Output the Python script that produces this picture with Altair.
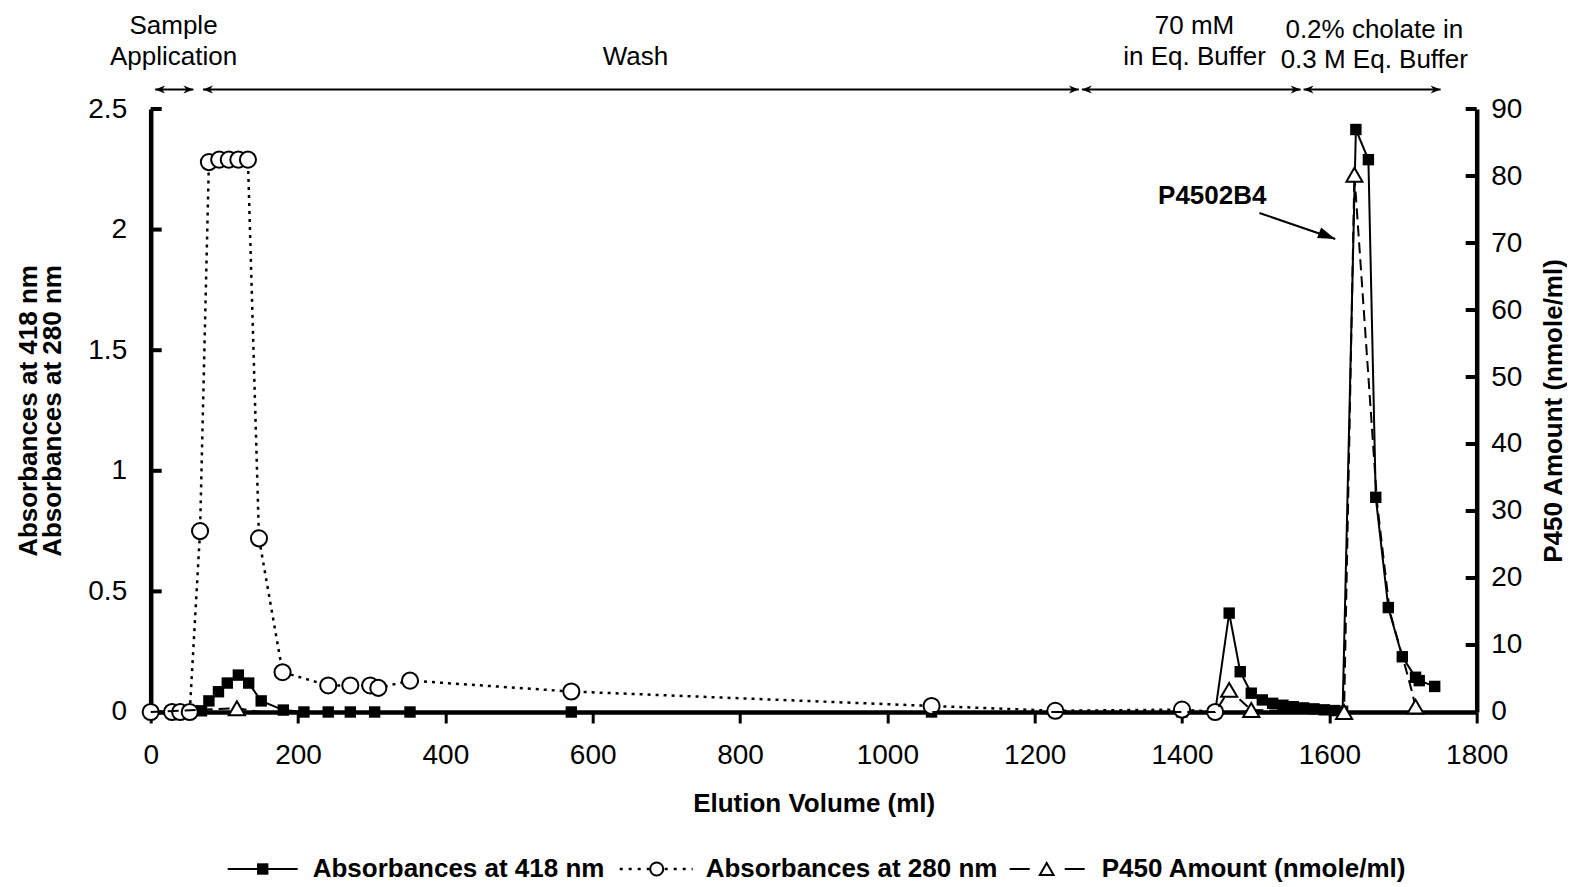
import altair as alt
import pandas as pd

# ---------------- data ----------------
ml_280 = [0, 29, 40, 53, 67, 79, 93, 106, 119, 132, 147, 179, 241, 271, 298, 309, 352, 571, 1060, 1228, 1400, 1445]
abs_280 = [0, 0, 0, 0, 0.75, 2.28, 2.29, 2.29, 2.29, 2.29, 0.72, 0.165, 0.11, 0.11, 0.11, 0.10, 0.13, 0.085, 0.025, 0.005, 0.01, 0.0]

ml_418 = [0, 69, 79, 92, 104, 119, 133, 150, 180, 208, 241, 271, 304, 352, 571, 1060, 1228, 1400, 1445,
          1464, 1479, 1494, 1509, 1523, 1537, 1551, 1565, 1579, 1593, 1607, 1618,
          1636, 1653, 1663, 1680, 1699, 1717, 1722, 1743]
abs_418 = [0, 0.005, 0.046, 0.084, 0.12, 0.153, 0.12, 0.046, 0.008, 0.0, 0.0, 0.0, 0.0, 0.0, 0.0, 0.0, 0.0, 0.0, 0.0,
           0.41, 0.167, 0.078, 0.05, 0.036, 0.028, 0.022, 0.017, 0.013, 0.009, 0.006, 0.003,
           2.415, 2.29, 0.89, 0.433, 0.229, 0.144, 0.13, 0.106]

ml_p450 = [0, 117, 150, 1445, 1464, 1494, 1620, 1634, 1665, 1682, 1700, 1711, 1717]
p450 = [0, 0.55, 0, 0, 3.3, 0.3, 0, 80.2, 31, 15, 8, 3.5, 0.8]
p450_marked = [False, True, False, False, True, True, True, True, False, False, False, False, True]

left_ticks = [0, 0.5, 1, 1.5, 2, 2.5]
right_ticks = [0, 10, 20, 30, 40, 50, 60, 70, 80, 90]
x_ticks = [0, 200, 400, 600, 800, 1000, 1200, 1400, 1600, 1800]

top_labels = ["Sample\nApplication", "70 mM\nin Eq. Buffer"]
top_labels_ml = [31, 1417]
wash_label = ["Wash"]
wash_ml = [658]
chol_label = ["0.2% cholate in\n0.3 M Eq. Buffer"]
chol_ml = [1661]
arrow_start = [6, 71, 1264, 1565]
arrow_end = [58, 1260, 1561, 1751]

peak_label = ["P4502B4"]
peak_label_ml = [1441]
peak_label_val = [2.14]
peak_arrow = {"x1": [1505], "y1": [2.069], "x2": [1608], "y2": [1.961]}

legend_labels = ["Absorbances at 418 nm", "Absorbances at 280 nm", "P450 Amount (nmole/ml)"]

# ---------------- tables ----------------
df280 = pd.DataFrame({"ml": ml_280, "v": abs_280})
df418 = pd.DataFrame({"ml": ml_418, "v": abs_418})
dfp = pd.DataFrame({"ml": ml_p450, "v": p450, "m": p450_marked})
dfp_m = dfp[dfp["m"]]
df_lt = pd.DataFrame({"v": left_ticks[1:]})
df_rt = pd.DataFrame({"v": right_ticks[1:]})
df_top = pd.DataFrame({"ml": top_labels_ml, "t": top_labels})
df_wash = pd.DataFrame({"ml": wash_ml, "t": wash_label})
df_chol = pd.DataFrame({"ml": chol_ml, "t": chol_label})
df_arr = pd.DataFrame({"x1": arrow_start, "x2": arrow_end})
df_peak = pd.DataFrame({"ml": peak_label_ml, "v": peak_label_val, "t": peak_label})
df_parr = pd.DataFrame(peak_arrow)

W, H = 1326, 603
FONT = "Liberation Sans"

xs = alt.Scale(domain=[0, 1800], nice=False, zero=False)
ysl = alt.Scale(domain=[0, 2.5], nice=False, zero=False)
ysr = alt.Scale(domain=[0, 90], nice=False, zero=False)

x_axis = alt.Axis(values=x_ticks, format="d", title="Elution Volume (ml)", tickSize=11, tickWidth=3,
                  tickColor="black", domainWidth=4.5, domainColor="black", labelPadding=19,
                  labelFontSize=28, labelFlush=False, labelOverlap=False, grid=False,
                  titleY=92, titleBaseline="middle", titleFontSize=26, titleFontWeight="bold")
left_axis = alt.Axis(values=left_ticks, labelExpr="datum.value", orient="left", ticks=False,
                     domainWidth=4.5, domainColor="black", labelPadding=24, labelFontSize=28,
                     labelFlush=False, labelOverlap=False, grid=False,
                     title=["Absorbances at 418 nm", "Absorbances at 280 nm"], titleAngle=270,
                     titleX=-122.5, titleY=301.5, titleAlign="center", titleBaseline="middle",
                     titleLineHeight=24, titleFontSize=26, titleFontWeight="bold")
right_axis = alt.Axis(values=right_ticks, format="d", orient="right", ticks=False,
                      domainWidth=4.5, domainColor="black", labelPadding=14, labelFontSize=28,
                      labelFlush=False, labelOverlap=False, grid=False,
                      title="P450 Amount (nmole/ml)", titleAngle=270, titleX=77, titleY=301.5,
                      titleAlign="center", titleBaseline="middle", titleFontSize=26,
                      titleFontWeight="bold")


def XF(f):
    return alt.X(f"{f}:Q", scale=xs, axis=x_axis)


def YL(f):
    return alt.Y(f"{f}:Q", scale=ysl, axis=left_axis)


def YR(f):
    return alt.Y(f"{f}:Q", scale=ysr, axis=right_axis)


# ---- left-scale group ----
tick_l = alt.Chart(df_lt).mark_rule(color="black", strokeWidth=4).encode(
    y=YL("v"), x=alt.value(0), x2=alt.value(11))
line418 = alt.Chart(df418).mark_line(color="black", strokeWidth=2).encode(x=XF("ml"), y=YL("v"))
line280 = alt.Chart(df280).mark_line(color="black", strokeWidth=2.5, strokeDash=[3, 5]).encode(
    x=XF("ml"), y=YL("v"))
sq418 = alt.Chart(df418).mark_point(shape="square", filled=True, color="black", size=130, opacity=1).encode(
    x=XF("ml"), y=YL("v"))
circ280 = alt.Chart(df280).mark_point(shape="circle", filled=True, fill="white", stroke="black",
                                      strokeWidth=2, size=260, opacity=1).encode(x=XF("ml"), y=YL("v"))

top_txt = alt.Chart(df_top).mark_text(font=FONT, fontSize=26, lineBreak="\n", lineHeight=31,
                                      align="center", baseline="middle", color="black").encode(
    x=XF("ml"), y=alt.value(-83), text="t:N")
wash_txt = alt.Chart(df_wash).mark_text(font=FONT, fontSize=26, align="center", baseline="middle",
                                        color="black").encode(x=XF("ml"), y=alt.value(-52), text="t:N")
chol_txt = alt.Chart(df_chol).mark_text(font=FONT, fontSize=26, lineBreak="\n", lineHeight=30,
                                        align="center", baseline="middle", color="black").encode(
    x=XF("ml"), y=alt.value(-79), text="t:N")
ARR_Y = -19.6
arr_rule = alt.Chart(df_arr).mark_rule(color="black", strokeWidth=2).encode(
    x=XF("x1"), x2="x2:Q", y=alt.value(ARR_Y))
head_l = alt.Chart(df_arr).mark_point(shape="M0,0L2,-0.8L1.4,0L2,0.8Z", filled=True, color="black",
                                      size=100, opacity=1).encode(x=XF("x1"), y=alt.value(ARR_Y))
head_r = alt.Chart(df_arr).mark_point(shape="M0,0L-2,-0.8L-1.4,0L-2,0.8Z", filled=True, color="black",
                                      size=100, opacity=1).encode(x=XF("x2"), y=alt.value(ARR_Y))

peak_txt = alt.Chart(df_peak).mark_text(font=FONT, fontSize=26, fontWeight="bold", align="center",
                                        baseline="middle", color="black").encode(
    x=XF("ml"), y=YL("v"), text="t:N")
peak_rule = alt.Chart(df_parr).mark_rule(color="black", strokeWidth=2).encode(
    x=XF("x1"), y=YL("y1"), x2="x2:Q", y2="y2:Q")
peak_head = alt.Chart(df_parr).mark_point(shape="M0,0L-2,-0.65L-2,0.65Z", filled=True, color="black",
                                          size=300, opacity=1, angle=21.5).encode(
    x=XF("x2"), y=YL("y2"))

# ---- legend ----
LY = 760


def leg_text(i, xpos):
    return alt.Chart(pd.DataFrame({"t": [legend_labels[i]]})).mark_text(
        font=FONT, fontSize=26, fontWeight="bold", align="left", baseline="middle", color="black").encode(
        x=alt.value(xpos), y=alt.value(LY), text="t:N")


d1 = pd.DataFrame({"t": [legend_labels[0]]})
d2 = pd.DataFrame({"t": [legend_labels[1]]})
d3 = pd.DataFrame({"t": [legend_labels[2]]})
lg1_line = alt.Chart(d1).mark_rule(color="black", strokeWidth=2).encode(
    x=alt.value(77), x2=alt.value(147), y=alt.value(LY))
lg1_pt = alt.Chart(d1).mark_point(shape="square", filled=True, color="black", size=130, opacity=1).encode(
    x=alt.value(112), y=alt.value(LY))
lg2_line = alt.Chart(d2).mark_rule(color="black", strokeWidth=2.5, strokeDash=[3, 6]).encode(
    x=alt.value(469), x2=alt.value(542), y=alt.value(LY))
lg2_pt = alt.Chart(d2).mark_point(shape="circle", filled=True, fill="white", stroke="black",
                                  strokeWidth=2, size=170, opacity=1).encode(
    x=alt.value(506), y=alt.value(LY))
lg3_line = alt.Chart(d3).mark_rule(color="black", strokeWidth=2, strokeDash=[20, 35]).encode(
    x=alt.value(859), x2=alt.value(934), y=alt.value(LY))
lg3_pt = alt.Chart(d3).mark_point(shape="triangle-up", filled=True, fill="white", stroke="black",
                                  strokeWidth=2, size=190, opacity=1).encode(
    x=alt.value(896), y=alt.value(LY))

left = alt.layer(tick_l, line418, line280, sq418, circ280, top_txt, wash_txt, chol_txt,
                 arr_rule, head_l, head_r, peak_txt, peak_rule, peak_head,
                 lg1_line, lg1_pt, lg2_line, lg2_pt, lg3_line, lg3_pt,
                 leg_text(0, 162), leg_text(1, 555), leg_text(2, 951))

# ---- right-scale group ----
tick_r = alt.Chart(df_rt).mark_rule(color="black", strokeWidth=4).encode(
    y=YR("v"), x=alt.value(W - 11), x2=alt.value(W))
lineP = alt.Chart(dfp).mark_line(color="black", strokeWidth=2, strokeDash=[11, 6]).encode(
    x=XF("ml"), y=YR("v"))
triP = alt.Chart(dfp_m).mark_point(shape="triangle-up", filled=True, fill="white", stroke="black",
                                   strokeWidth=2, size=260, opacity=1).encode(x=XF("ml"), y=YR("v"))
right = alt.layer(tick_r, lineP, triP)

chart = alt.layer(left, right).resolve_scale(y="independent").properties(
    width=W, height=H,
    autosize=alt.AutoSizeParams(type="none"),
    padding={"left": 142.7, "top": 101, "right": 90, "bottom": 172},
).configure_view(stroke=None).configure_axis(
    labelFont=FONT, titleFont=FONT, labelColor="black", titleColor="black"
).configure_text(font=FONT)

chart.save("out.html", embed_options={"renderer": "svg", "actions": False})
